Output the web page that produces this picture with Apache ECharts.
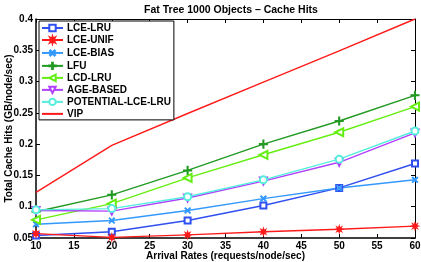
<!DOCTYPE html>
<html><head><meta charset="utf-8">
<script src="https://cdn.jsdelivr.net/npm/echarts@6/dist/echarts.min.js"></script>
<style>html,body{margin:0;padding:0;background:#fff}#c{width:421px;height:262px}</style>
</head><body><div id="c"></div>
<script>
const arrivalRates = [10, 20, 30, 40, 50, 60];
const lceLru   = [0.054, 0.060, 0.078, 0.102, 0.130, 0.169];
const lceUnif  = [0.057, 0.051, 0.055, 0.060, 0.064, 0.069];
const lceBias  = [0.072, 0.078, 0.094, 0.113, 0.130, 0.143];
const lfu      = [0.092, 0.119, 0.158, 0.200, 0.237, 0.278];
const lcdLru   = [0.079, 0.105, 0.146, 0.183, 0.219, 0.260];
const ageBased = [0.094, 0.093, 0.114, 0.141, 0.171, 0.218];
const potentialLceLru = [0.095, 0.097, 0.116, 0.143, 0.176, 0.221];
const vip      = [0.123, 0.198, 0.249, 0.299, 0.349, 0.400];
const seriesNames = ['LCE-LRU','LCE-UNIF','LCE-BIAS','LFU','LCD-LRU','AGE-BASED','POTENTIAL-LCE-LRU','VIP'];
const titleText = 'Fat Tree 1000 Objects \u2013 Cache Hits';
const xName = 'Arrival Rates (requests/node/sec)';
const yName = 'Total Cache Hits (GB/node/sec)';

const FONT = 'Liberation Sans, Arial, Helvetica, sans-serif';
const plusPath = 'path://M4.4,0H5.6V4.4H10V5.6H5.6V10H4.4V5.6H0V4.4H4.4Z';
function starPath(n, ro, ri) {
  let d = '';
  for (let i = 0; i < 2 * n; i++) {
    const r = i % 2 === 0 ? ro : ri;
    const a = Math.PI * i / n - Math.PI / 2;
    d += (i === 0 ? 'M' : 'L') + (10 + r * Math.cos(a)).toFixed(2) + ',' + (10 + r * Math.sin(a)).toFixed(2);
  }
  return 'path://' + d + 'Z';
}
const asterisk = starPath(8, 10, 4.5);

const styles = [
  {c:'#2f4ff0', sym:'emptyRect', rot:0, size:6},
  {c:'#ff1a1a', sym:asterisk, rot:0, size:7},
  {c:'#3399ff', sym:plusPath, rot:45, size:7},
  {c:'#229922', sym:plusPath, rot:0, size:8},
  {c:'#66ee11', sym:'emptyTriangle', rot:90, size:8},
  {c:'#b040ff', sym:'emptyTriangle', rot:180, size:7},
  {c:'#55eedd', sym:'emptyCircle', rot:0, size:7},
  {c:'#ff1a1a', sym:'none', rot:0, size:0}
];
const dataSets = [lceLru, lceUnif, lceBias, lfu, lcdLru, ageBased, potentialLceLru, vip];

const series = seriesNames.map((name, i) => ({
  name, type:'line',
  data: arrivalRates.map((x, j) => [x, dataSets[i][j]]),
  symbol: styles[i].sym, symbolSize: styles[i].size, symbolRotate: styles[i].rot,
  showAllSymbol: true,
  lineStyle: {color: styles[i].c, width: 1.4},
  itemStyle: {color: styles[i].c, borderColor: styles[i].c, borderWidth: 1.1},
  emphasis: {disabled: true},
  animation: false,
  z: 2 + (i === 7 ? 0 : 1)
}));

const legendData = seriesNames.map(n => n === 'VIP' ? {name:n, itemStyle:{opacity:0}} : n);

const axisLbl = {color:'#000', fontFamily:FONT, fontWeight:'bold', fontSize:10};
const chart = echarts.init(document.getElementById('c'), null, {renderer:'canvas'});
chart.setOption({
  animation:false,
  backgroundColor:'#fff',
  title:{text:titleText, left:226, top:0, textAlign:'center',
    textStyle:{fontFamily:FONT, fontWeight:'bold', fontSize:10.5, color:'#000'}},
  grid:{left:36, right:6, top:19, bottom:24, containLabel:false, outerBoundsMode:'none'},
  legend:{
    orient:'vertical', left:39, top:21, data:legendData,
    itemWidth:21, itemHeight:8, itemGap:2,
    padding:[2,3,1,2],
    backgroundColor:'#fff', borderColor:'#000', borderWidth:1,
    textStyle:{fontFamily:FONT, fontWeight:'bold', fontSize:10, color:'#000', padding:[0,0,0,-1]},
    selectedMode:false
  },
  xAxis:[{
    type:'value', min:10, max:60, interval:5,
    name:xName, nameLocation:'middle', nameGap:13, nameMoveOverlap:false,
    nameTextStyle:{fontFamily:FONT, fontWeight:'bold', fontSize:10, color:'#000'},
    axisLine:{show:true, onZero:false, lineStyle:{color:'#000', width:1.5}},
    axisTick:{show:true, inside:true, length:4, lineStyle:{color:'#000'}},
    axisLabel:Object.assign({margin:3}, axisLbl),
    splitLine:{show:false}
  },{
    type:'value', position:'top', min:10, max:60, interval:5,
    axisLine:{show:true, onZero:false, lineStyle:{color:'#000', width:1}},
    axisTick:{show:true, inside:true, length:4, lineStyle:{color:'#000'}},
    axisLabel:{show:false}, splitLine:{show:false}
  }],
  yAxis:[{
    type:'value', min:0.05, max:0.4, interval:0.05,
    name:yName, nameLocation:'middle', nameGap:22, nameMoveOverlap:false,
    nameTextStyle:{fontFamily:FONT, fontWeight:'bold', fontSize:10, color:'#000'},
    axisLine:{show:true, onZero:false, lineStyle:{color:'#000', width:1.5}},
    axisTick:{show:true, inside:true, length:4, lineStyle:{color:'#000'}},
    axisLabel:Object.assign({margin:3, formatter:v => String(+v.toFixed(2))}, axisLbl),
    splitLine:{show:false}
  },{
    type:'value', position:'right', min:0.05, max:0.4, interval:0.05,
    axisLine:{show:true, onZero:false, lineStyle:{color:'#000', width:1}},
    axisTick:{show:true, inside:true, length:4, lineStyle:{color:'#000'}},
    axisLabel:{show:false}, splitLine:{show:false}
  }],
  series
});
</script></body></html>
